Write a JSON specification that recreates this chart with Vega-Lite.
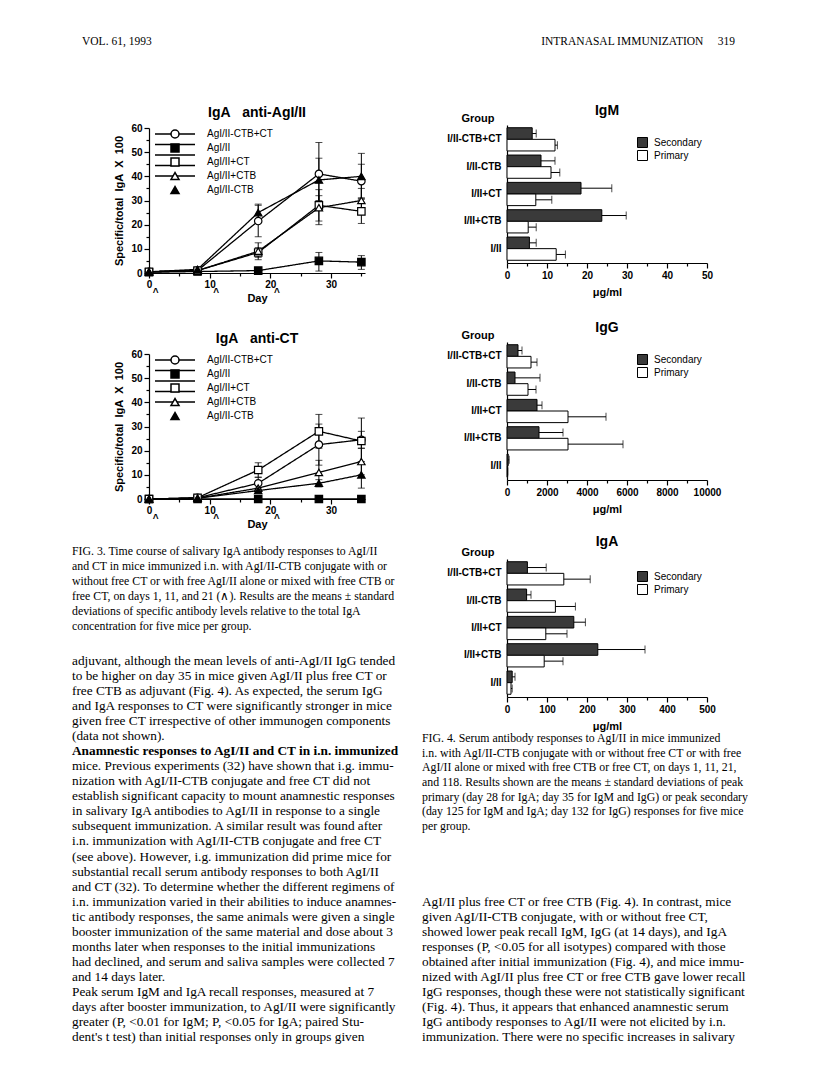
{
  "$schema": "https://vega.github.io/schema/vega-lite/v6.json",
  "background": "white",
  "autosize": {"type": "none"},
  "padding": {"left": 149, "top": 10, "right": 667, "bottom": 1076},
  "bounds": "flush",
  "spacing": 358,
  "resolve": {"scale": {"shape": "independent", "fill": "independent", "strokeDash": "independent"}},
  "datasets": {
    "hdrL": [{"t": "VOL. 61, 1993"}],
    "hdrR": [{"t": "INTRANASAL IMMUNIZATION\u00a0\u00a0\u00a0\u00a0\u00a0319"}],
    "ts1": [
      {"s": "AgI/II-CTB+CT", "d": 0, "y": 0.5},
      {"s": "AgI/II-CTB+CT", "d": 8, "y": 1},
      {"s": "AgI/II-CTB+CT", "d": 18, "y": 21.5, "lo": 15, "hi": 28},
      {"s": "AgI/II-CTB+CT", "d": 28, "y": 41, "lo": 28, "hi": 54},
      {"s": "AgI/II-CTB+CT", "d": 35, "y": 38, "lo": 31, "hi": 45},
      {"s": "AgI/II", "d": 0, "y": 0.3},
      {"s": "AgI/II", "d": 8, "y": 0.6},
      {"s": "AgI/II", "d": 18, "y": 1},
      {"s": "AgI/II", "d": 28, "y": 5, "lo": 0.8, "hi": 8.5},
      {"s": "AgI/II", "d": 35, "y": 4.5, "lo": 1.5, "hi": 7.2},
      {"s": "AgI/II+CT", "d": 0, "y": 0.5},
      {"s": "AgI/II+CT", "d": 8, "y": 1},
      {"s": "AgI/II+CT", "d": 18, "y": 8.5, "lo": 6.5, "hi": 10.5},
      {"s": "AgI/II+CT", "d": 28, "y": 28, "lo": 21.5, "hi": 34.5},
      {"s": "AgI/II+CT", "d": 35, "y": 25.5, "lo": 20.5, "hi": 30.5},
      {"s": "AgI/II+CTB", "d": 0, "y": 0.5},
      {"s": "AgI/II+CTB", "d": 8, "y": 1},
      {"s": "AgI/II+CTB", "d": 18, "y": 9, "lo": 5.5, "hi": 12.5},
      {"s": "AgI/II+CTB", "d": 28, "y": 27, "lo": 20, "hi": 32},
      {"s": "AgI/II+CTB", "d": 35, "y": 30, "lo": 25, "hi": 35},
      {"s": "AgI/II-CTB", "d": 0, "y": 0.5},
      {"s": "AgI/II-CTB", "d": 8, "y": 1.5},
      {"s": "AgI/II-CTB", "d": 18, "y": 25, "lo": 22, "hi": 28.5},
      {"s": "AgI/II-CTB", "d": 28, "y": 38.5, "lo": 30, "hi": 47.5},
      {"s": "AgI/II-CTB", "d": 35, "y": 40, "lo": 31, "hi": 49.5}
    ],
    "ts2": [
      {"s": "AgI/II-CTB+CT", "d": 0, "y": 0},
      {"s": "AgI/II-CTB+CT", "d": 8, "y": 0.5},
      {"s": "AgI/II-CTB+CT", "d": 18, "y": 6.5, "lo": 4, "hi": 9},
      {"s": "AgI/II-CTB+CT", "d": 28, "y": 22.5, "lo": 14, "hi": 31},
      {"s": "AgI/II-CTB+CT", "d": 35, "y": 24.5, "lo": 21, "hi": 28},
      {"s": "AgI/II", "d": 0, "y": 0},
      {"s": "AgI/II", "d": 8, "y": 0},
      {"s": "AgI/II", "d": 18, "y": 0},
      {"s": "AgI/II", "d": 28, "y": 0},
      {"s": "AgI/II", "d": 35, "y": 0},
      {"s": "AgI/II+CT", "d": 0, "y": 0},
      {"s": "AgI/II+CT", "d": 8, "y": 0.5},
      {"s": "AgI/II+CT", "d": 18, "y": 12, "lo": 9, "hi": 15},
      {"s": "AgI/II+CT", "d": 28, "y": 28, "lo": 21, "hi": 35},
      {"s": "AgI/II+CT", "d": 35, "y": 24, "lo": 14.5, "hi": 33.5},
      {"s": "AgI/II+CTB", "d": 0, "y": 0},
      {"s": "AgI/II+CTB", "d": 8, "y": 0.3},
      {"s": "AgI/II+CTB", "d": 18, "y": 4.5, "lo": 3, "hi": 6},
      {"s": "AgI/II+CTB", "d": 28, "y": 11, "lo": 6, "hi": 16},
      {"s": "AgI/II+CTB", "d": 35, "y": 15.5, "lo": 10, "hi": 21},
      {"s": "AgI/II-CTB", "d": 0, "y": 0},
      {"s": "AgI/II-CTB", "d": 8, "y": 0.3},
      {"s": "AgI/II-CTB", "d": 18, "y": 3.5, "lo": 2.5, "hi": 4.5},
      {"s": "AgI/II-CTB", "d": 28, "y": 6.5, "lo": 5, "hi": 8},
      {"s": "AgI/II-CTB", "d": 35, "y": 10, "lo": 4.5, "hi": 15.5}
    ],
    "bars": [
      {"iso": "IgM", "g": "I/II-CTB+CT", "t": "Secondary", "v": 6.3, "hi": 7.3},
      {"iso": "IgM", "g": "I/II-CTB+CT", "t": "Primary", "v": 12.0, "hi": 12.6},
      {"iso": "IgM", "g": "I/II-CTB", "t": "Secondary", "v": 8.5, "hi": 12.0},
      {"iso": "IgM", "g": "I/II-CTB", "t": "Primary", "v": 11.0, "hi": 13.2},
      {"iso": "IgM", "g": "I/II+CT", "t": "Secondary", "v": 18.5, "hi": 26.2},
      {"iso": "IgM", "g": "I/II+CT", "t": "Primary", "v": 7.2, "hi": 11.2},
      {"iso": "IgM", "g": "I/II+CTB", "t": "Secondary", "v": 23.7, "hi": 29.8},
      {"iso": "IgM", "g": "I/II+CTB", "t": "Primary", "v": 5.3, "hi": 7.3},
      {"iso": "IgM", "g": "I/II", "t": "Secondary", "v": 5.6, "hi": 7.3},
      {"iso": "IgM", "g": "I/II", "t": "Primary", "v": 12.3, "hi": 14.6},
      {"iso": "IgG", "g": "I/II-CTB+CT", "t": "Secondary", "v": 550, "hi": 750},
      {"iso": "IgG", "g": "I/II-CTB+CT", "t": "Primary", "v": 1200, "hi": 1500},
      {"iso": "IgG", "g": "I/II-CTB", "t": "Secondary", "v": 400, "hi": 1650},
      {"iso": "IgG", "g": "I/II-CTB", "t": "Primary", "v": 1050, "hi": 1450},
      {"iso": "IgG", "g": "I/II+CT", "t": "Secondary", "v": 1500, "hi": 1750},
      {"iso": "IgG", "g": "I/II+CT", "t": "Primary", "v": 3050, "hi": 4950},
      {"iso": "IgG", "g": "I/II+CTB", "t": "Secondary", "v": 1600, "hi": 2800},
      {"iso": "IgG", "g": "I/II+CTB", "t": "Primary", "v": 3050, "hi": 5800},
      {"iso": "IgG", "g": "I/II", "t": "Secondary", "v": 60, "hi": 110},
      {"iso": "IgG", "g": "I/II", "t": "Primary", "v": 30, "hi": 40},
      {"iso": "IgA", "g": "I/II-CTB+CT", "t": "Secondary", "v": 51, "hi": 98},
      {"iso": "IgA", "g": "I/II-CTB+CT", "t": "Primary", "v": 142, "hi": 208},
      {"iso": "IgA", "g": "I/II-CTB", "t": "Secondary", "v": 49, "hi": 60},
      {"iso": "IgA", "g": "I/II-CTB", "t": "Primary", "v": 121, "hi": 171},
      {"iso": "IgA", "g": "I/II+CT", "t": "Secondary", "v": 167, "hi": 196},
      {"iso": "IgA", "g": "I/II+CT", "t": "Primary", "v": 97, "hi": 150},
      {"iso": "IgA", "g": "I/II+CTB", "t": "Secondary", "v": 227, "hi": 345},
      {"iso": "IgA", "g": "I/II+CTB", "t": "Primary", "v": 93, "hi": 140},
      {"iso": "IgA", "g": "I/II", "t": "Secondary", "v": 13, "hi": 20},
      {"iso": "IgA", "g": "I/II", "t": "Primary", "v": 10, "hi": 13}
    ],
    "capL": [
      {"ln": 0, "t": "\u2003FIG. 3. Time course of salivary IgA antibody responses to AgI/II"},
      {"ln": 1, "t": "and CT in mice immunized i.n. with AgI/II-CTB conjugate with or"},
      {"ln": 2, "t": "without free CT or with free AgI/II alone or mixed with free CTB or"},
      {"ln": 3, "t": "free CT, on days 1, 11, and 21 (\u2227). Results are the means \u00b1 standard"},
      {"ln": 4, "t": "deviations of specific antibody levels relative to the total IgA"},
      {"ln": 5, "t": "concentration for five mice per group."}
    ],
    "bodyL": [
      {"ln": 0, "t": "adjuvant, although the mean levels of anti-AgI/II IgG tended"},
      {"ln": 1, "t": "to be higher on day 35 in mice given AgI/II plus free CT or"},
      {"ln": 2, "t": "free CTB as adjuvant (Fig. 4). As expected, the serum IgG"},
      {"ln": 3, "t": "and IgA responses to CT were significantly stronger in mice"},
      {"ln": 4, "t": "given free CT irrespective of other immunogen components"},
      {"ln": 5, "t": "(data not shown)."},
      {"ln": 6, "t": "\u2003Anamnestic responses to AgI/II and CT in i.n. immunized", "r": "h"},
      {"ln": 7, "t": "mice. Previous experiments (32) have shown that i.g. immu-"},
      {"ln": 8, "t": "nization with AgI/II-CTB conjugate and free CT did not"},
      {"ln": 9, "t": "establish significant capacity to mount anamnestic responses"},
      {"ln": 10, "t": "in salivary IgA antibodies to AgI/II in response to a single"},
      {"ln": 11, "t": "subsequent immunization. A similar result was found after"},
      {"ln": 12, "t": "i.n. immunization with AgI/II-CTB conjugate and free CT"},
      {"ln": 13, "t": "(see above). However, i.g. immunization did prime mice for"},
      {"ln": 14, "t": "substantial recall serum antibody responses to both AgI/II"},
      {"ln": 15, "t": "and CT (32). To determine whether the different regimens of"},
      {"ln": 16, "t": "i.n. immunization varied in their abilities to induce anamnes-"},
      {"ln": 17, "t": "tic antibody responses, the same animals were given a single"},
      {"ln": 18, "t": "booster immunization of the same material and dose about 3"},
      {"ln": 19, "t": "months later when responses to the initial immunizations"},
      {"ln": 20, "t": "had declined, and serum and saliva samples were collected 7"},
      {"ln": 21, "t": "and 14 days later."},
      {"ln": 22, "t": "\u2003Peak serum IgM and IgA recall responses, measured at 7"},
      {"ln": 23, "t": "days after booster immunization, to AgI/II were significantly"},
      {"ln": 24, "t": "greater (P, <0.01 for IgM; P, <0.05 for IgA; paired Stu-"},
      {"ln": 25, "t": "dent's t test) than initial responses only in groups given"}
    ],
    "capR": [
      {"ln": 0, "t": "\u2003FIG. 4. Serum antibody responses to AgI/II in mice immunized"},
      {"ln": 1, "t": "i.n. with AgI/II-CTB conjugate with or without free CT or with free"},
      {"ln": 2, "t": "AgI/II alone or mixed with free CTB or free CT, on days 1, 11, 21,"},
      {"ln": 3, "t": "and 118. Results shown are the means \u00b1 standard deviations of peak"},
      {"ln": 4, "t": "primary (day 28 for IgA; day 35 for IgM and IgG) or peak secondary"},
      {"ln": 5, "t": "(day 125 for IgM and IgA; day 132 for IgG) responses for five mice"},
      {"ln": 6, "t": "per group."}
    ],
    "bodyR": [
      {"ln": 0, "t": "AgI/II plus free CT or free CTB (Fig. 4). In contrast, mice"},
      {"ln": 1, "t": "given AgI/II-CTB conjugate, with or without free CT,"},
      {"ln": 2, "t": "showed lower peak recall IgM, IgG (at 14 days), and IgA"},
      {"ln": 3, "t": "responses (P, <0.05 for all isotypes) compared with those"},
      {"ln": 4, "t": "obtained after initial immunization (Fig. 4), and mice immu-"},
      {"ln": 5, "t": "nized with AgI/II plus free CT or free CTB gave lower recall"},
      {"ln": 6, "t": "IgG responses, though these were not statistically significant"},
      {"ln": 7, "t": "(Fig. 4). Thus, it appears that enhanced anamnestic serum"},
      {"ln": 8, "t": "IgG antibody responses to AgI/II were not elicited by i.n."},
      {"ln": 9, "t": "immunization. There were no specific increases in salivary"}
    ]
  },
  "hconcat": [
    {
      "bounds": "flush",
      "spacing": 81,
      "resolve": {"scale": {"shape": "independent", "fill": "independent", "strokeDash": "independent"}},
      "vconcat": [
        {
          "width": 216, "height": 37,
          "data": {"name": "hdrL"},
          "mark": {"type": "text", "align": "left", "baseline": "middle", "font": "Liberation Serif", "fontSize": 11.5, "color": "black", "dx": -67, "dy": 32},
          "encoding": {
            "x": {"datum": 0, "type": "quantitative", "scale": {"domain": [0, 1]}, "axis": null},
            "y": {"datum": 0, "type": "quantitative", "scale": {"domain": [0, 1], "reverse": true}, "axis": null},
            "text": {"field": "t"}
          }
        },
        {
          "width": 216, "height": 145,
          "data": {"name": "ts1"},
          "title": {"text": "IgA\u00a0\u00a0\u00a0anti-AgI/II", "offset": -11, "baseline": "bottom"},
          "encoding": {
            "x": {"field": "d", "type": "quantitative", "title": "Day",
              "scale": {"domain": [0, 35.6], "nice": false, "zero": false},
              "axis": {"values": [0, 1, 5, 10, 11, 15, 20, 21, 25, 30, 35],
                "labelExpr": "datum.value % 10 === 0 ? datum.label : (datum.value % 10 === 1 ? ['', '^'] : '')",
                "tickSize": {"condition": [{"test": "datum.value % 10 === 1", "value": 0}, {"test": "datum.value % 10 === 5", "value": 3}], "value": 5},
                "labelPadding": 1, "labelLineHeight": 13, "labelOverlap": false, "labelFlush": false, "titleY": 25, "titleBaseline": "middle"}},
            "y": {"field": "y", "type": "quantitative", "title": "Specific/total\u00a0\u00a0IgA\u00a0\u00a0X\u00a0\u00a0100", "scale": {"domain": [0, 60], "nice": false},
              "axis": {"values": [0, 5, 10, 15, 20, 25, 30, 35, 40, 45, 50, 55, 60], "labelExpr": "datum.value % 10 === 0 ? datum.label : ''", "tickSize": {"condition": {"test": "datum.value % 10 === 0", "value": 5}, "value": 3}, "labelPadding": 2, "titlePadding": 6, "labelOverlap": false}}
          },
          "layer": [
            {"mark": {"type": "rule", "color": "black", "strokeWidth": 1},
             "encoding": {"y": {"field": "lo", "type": "quantitative", "title": "Specific/total\u00a0\u00a0IgA\u00a0\u00a0X\u00a0\u00a0100", "scale": {"domain": [0, 60], "nice": false},
                "axis": {"values": [0, 5, 10, 15, 20, 25, 30, 35, 40, 45, 50, 55, 60], "labelExpr": "datum.value % 10 === 0 ? datum.label : ''", "tickSize": {"condition": {"test": "datum.value % 10 === 0", "value": 5}, "value": 3}, "labelPadding": 2, "titlePadding": 6, "labelOverlap": false}},
               "y2": {"field": "hi"}}},
            {"mark": {"type": "tick", "orient": "horizontal", "color": "black", "size": 7, "thickness": 1},
             "encoding": {"y": {"field": "hi", "type": "quantitative", "title": "Specific/total\u00a0\u00a0IgA\u00a0\u00a0X\u00a0\u00a0100", "scale": {"domain": [0, 60], "nice": false},
                "axis": {"values": [0, 5, 10, 15, 20, 25, 30, 35, 40, 45, 50, 55, 60], "labelExpr": "datum.value % 10 === 0 ? datum.label : ''", "tickSize": {"condition": {"test": "datum.value % 10 === 0", "value": 5}, "value": 3}, "labelPadding": 2, "titlePadding": 6, "labelOverlap": false}}}},
            {"mark": {"type": "tick", "orient": "horizontal", "color": "black", "size": 7, "thickness": 1},
             "encoding": {"y": {"field": "lo", "type": "quantitative", "title": "Specific/total\u00a0\u00a0IgA\u00a0\u00a0X\u00a0\u00a0100", "scale": {"domain": [0, 60], "nice": false},
                "axis": {"values": [0, 5, 10, 15, 20, 25, 30, 35, 40, 45, 50, 55, 60], "labelExpr": "datum.value % 10 === 0 ? datum.label : ''", "tickSize": {"condition": {"test": "datum.value % 10 === 0", "value": 5}, "value": 3}, "labelPadding": 2, "titlePadding": 6, "labelOverlap": false}}}},
            {"mark": {"type": "line", "color": "black", "strokeWidth": 1.3},
             "encoding": {
               "detail": {"field": "s"},
               "strokeDash": {"field": "s", "type": "nominal", "scale": {"domain": ["AgI/II-CTB+CT", "AgI/II", "AgI/II+CT", "AgI/II+CTB", "AgI/II-CTB"], "range": [[1, 0], [1, 0], [1, 0], [1, 0], [1, 0]]},
                 "legend": {"orient": "top-left", "offset": 1, "title": null, "symbolType": "M-5,0L5,0", "symbolSize": 64, "symbolOffset": 20, "labelOffset": 27, "rowPadding": 0.5, "labelFontSize": 10, "labelExpr": "' '", "labelOpacity": 0, "symbolStrokeColor": "black", "symbolStrokeWidth": 1.3, "symbolDash": [1, 0], "zindex": 0}}}},
            {"mark": {"type": "point", "filled": true, "stroke": "black", "strokeWidth": 1.2, "opacity": 1, "size": 55},
             "encoding": {
               "shape": {"field": "s", "type": "nominal", "scale": {"domain": ["AgI/II-CTB+CT", "AgI/II", "AgI/II+CT", "AgI/II+CTB", "AgI/II-CTB"], "range": ["circle", "square", "square", "triangle-up", "triangle-up"]},
                 "legend": {"orient": "none", "legendX": 6, "legendY": 1, "title": null, "symbolSize": 64, "symbolOffset": 15, "labelOffset": 27, "rowPadding": 0, "labelFontSize": 10, "zindex": 1}},
               "fill": {"field": "s", "type": "nominal", "scale": {"domain": ["AgI/II-CTB+CT", "AgI/II", "AgI/II+CT", "AgI/II+CTB", "AgI/II-CTB"], "range": ["white", "black", "white", "white", "black"]}}
             }}
          ]
        },
        {
          "width": 216, "height": 145,
          "data": {"name": "ts2"},
          "title": {"text": "IgA\u00a0\u00a0\u00a0anti-CT", "offset": -11, "baseline": "bottom"},
          "encoding": {
            "x": {"field": "d", "type": "quantitative", "title": "Day",
              "scale": {"domain": [0, 35.6], "nice": false, "zero": false},
              "axis": {"values": [0, 1, 5, 10, 11, 15, 20, 21, 25, 30, 35],
                "labelExpr": "datum.value % 10 === 0 ? datum.label : (datum.value % 10 === 1 ? ['', '^'] : '')",
                "tickSize": {"condition": [{"test": "datum.value % 10 === 1", "value": 0}, {"test": "datum.value % 10 === 5", "value": 3}], "value": 5},
                "labelPadding": 1, "labelLineHeight": 13, "labelOverlap": false, "labelFlush": false, "titleY": 25, "titleBaseline": "middle"}},
            "y": {"field": "y", "type": "quantitative", "title": "Specific/total\u00a0\u00a0IgA\u00a0\u00a0X\u00a0\u00a0100", "scale": {"domain": [0, 60], "nice": false},
              "axis": {"values": [0, 5, 10, 15, 20, 25, 30, 35, 40, 45, 50, 55, 60], "labelExpr": "datum.value % 10 === 0 ? datum.label : ''", "tickSize": {"condition": {"test": "datum.value % 10 === 0", "value": 5}, "value": 3}, "labelPadding": 2, "titlePadding": 6, "labelOverlap": false}}
          },
          "layer": [
            {"mark": {"type": "rule", "color": "black", "strokeWidth": 1},
             "encoding": {"y": {"field": "lo", "type": "quantitative", "title": "Specific/total\u00a0\u00a0IgA\u00a0\u00a0X\u00a0\u00a0100", "scale": {"domain": [0, 60], "nice": false},
                "axis": {"values": [0, 5, 10, 15, 20, 25, 30, 35, 40, 45, 50, 55, 60], "labelExpr": "datum.value % 10 === 0 ? datum.label : ''", "tickSize": {"condition": {"test": "datum.value % 10 === 0", "value": 5}, "value": 3}, "labelPadding": 2, "titlePadding": 6, "labelOverlap": false}},
               "y2": {"field": "hi"}}},
            {"mark": {"type": "tick", "orient": "horizontal", "color": "black", "size": 7, "thickness": 1},
             "encoding": {"y": {"field": "hi", "type": "quantitative", "title": "Specific/total\u00a0\u00a0IgA\u00a0\u00a0X\u00a0\u00a0100", "scale": {"domain": [0, 60], "nice": false},
                "axis": {"values": [0, 5, 10, 15, 20, 25, 30, 35, 40, 45, 50, 55, 60], "labelExpr": "datum.value % 10 === 0 ? datum.label : ''", "tickSize": {"condition": {"test": "datum.value % 10 === 0", "value": 5}, "value": 3}, "labelPadding": 2, "titlePadding": 6, "labelOverlap": false}}}},
            {"mark": {"type": "tick", "orient": "horizontal", "color": "black", "size": 7, "thickness": 1},
             "encoding": {"y": {"field": "lo", "type": "quantitative", "title": "Specific/total\u00a0\u00a0IgA\u00a0\u00a0X\u00a0\u00a0100", "scale": {"domain": [0, 60], "nice": false},
                "axis": {"values": [0, 5, 10, 15, 20, 25, 30, 35, 40, 45, 50, 55, 60], "labelExpr": "datum.value % 10 === 0 ? datum.label : ''", "tickSize": {"condition": {"test": "datum.value % 10 === 0", "value": 5}, "value": 3}, "labelPadding": 2, "titlePadding": 6, "labelOverlap": false}}}},
            {"mark": {"type": "line", "color": "black", "strokeWidth": 1.3},
             "encoding": {
               "detail": {"field": "s"},
               "strokeDash": {"field": "s", "type": "nominal", "scale": {"domain": ["AgI/II-CTB+CT", "AgI/II", "AgI/II+CT", "AgI/II+CTB", "AgI/II-CTB"], "range": [[1, 0], [1, 0], [1, 0], [1, 0], [1, 0]]},
                 "legend": {"orient": "top-left", "offset": 1, "title": null, "symbolType": "M-5,0L5,0", "symbolSize": 64, "symbolOffset": 20, "labelOffset": 27, "rowPadding": 0.5, "labelFontSize": 10, "labelExpr": "' '", "labelOpacity": 0, "symbolStrokeColor": "black", "symbolStrokeWidth": 1.3, "symbolDash": [1, 0], "zindex": 0}}}},
            {"mark": {"type": "point", "filled": true, "stroke": "black", "strokeWidth": 1.2, "opacity": 1, "size": 55},
             "encoding": {
               "shape": {"field": "s", "type": "nominal", "scale": {"domain": ["AgI/II-CTB+CT", "AgI/II", "AgI/II+CT", "AgI/II+CTB", "AgI/II-CTB"], "range": ["circle", "square", "square", "triangle-up", "triangle-up"]},
                 "legend": {"orient": "none", "legendX": 6, "legendY": 1, "title": null, "symbolSize": 64, "symbolOffset": 15, "labelOffset": 27, "rowPadding": 0, "labelFontSize": 10, "zindex": 1}},
               "fill": {"field": "s", "type": "nominal", "scale": {"domain": ["AgI/II-CTB+CT", "AgI/II", "AgI/II+CT", "AgI/II+CTB", "AgI/II-CTB"], "range": ["white", "black", "white", "white", "black"]}}
             }}
          ]
        },
        {
          "width": 216, "height": 75,
          "data": {"name": "capL"},
          "mark": {"type": "text", "align": "left", "baseline": "middle", "font": "Liberation Serif", "fontSize": 11.8, "color": "black", "dx": -77, "dy": -29},
          "encoding": {
            "x": {"datum": 0, "type": "quantitative", "scale": {"domain": [0, 1]}, "axis": null},
            "y": {"field": "ln", "type": "quantitative", "scale": {"domain": [0, 5], "reverse": true, "nice": false, "zero": false}, "axis": null},
            "text": {"field": "t"}
          }
        },
        {
          "width": 216, "height": 376,
          "data": {"name": "bodyL"},
          "encoding": {
            "x": {"datum": 0, "type": "quantitative", "scale": {"domain": [0, 1]}, "axis": null},
            "y": {"field": "ln", "type": "quantitative", "scale": {"domain": [0, 25], "reverse": true, "nice": false, "zero": false}, "axis": null},
            "text": {"field": "t"}
          },
          "layer": [
            {"transform": [{"filter": "datum.r !== 'h'"}],
             "mark": {"type": "text", "align": "left", "baseline": "middle", "font": "Liberation Serif", "fontSize": 13.3, "color": "black", "dx": -77, "dy": -75}},
            {"transform": [{"filter": "datum.r === 'h'"}],
             "mark": {"type": "text", "align": "left", "baseline": "middle", "font": "Liberation Serif", "fontSize": 13.3, "fontWeight": "bold", "color": "black", "dx": -77, "dy": -75}}
          ]
        }
      ]
    },
    {
      "bounds": "flush",
      "spacing": 79,
      "resolve": {"scale": {"shape": "independent", "fill": "independent", "strokeDash": "independent"}},
      "vconcat": [
        {
          "width": 200, "height": 36,
          "data": {"name": "hdrR"},
          "mark": {"type": "text", "align": "right", "baseline": "middle", "font": "Liberation Serif", "fontSize": 11.5, "color": "black", "dx": 28, "dy": 32},
          "encoding": {
            "x": {"datum": 1, "type": "quantitative", "scale": {"domain": [0, 1]}, "axis": null},
            "y": {"datum": 0, "type": "quantitative", "scale": {"domain": [0, 1], "reverse": true}, "axis": null},
            "text": {"field": "t"}
          }
        },
        {
          "width": 200, "height": 138,
          "data": {"name": "bars"},
          "transform": [{"filter": "datum.iso === 'IgM'"}],
          "title": {"text": "IgM", "frame": "group", "offset": -20, "baseline": "bottom"},
          "encoding": {
            "y": {"field": "g", "type": "nominal", "title": "Group", "sort": ["I/II-CTB+CT", "I/II-CTB", "I/II+CT", "I/II+CTB", "I/II"], "scale": {"paddingInner": 0.15, "paddingOuter": 0.1},
              "axis": {"ticks": false, "labelPadding": 6, "titleAngle": 0, "titleAlign": "left", "titleX": -46, "titleY": -7, "titleBaseline": "middle"}},
            "yOffset": {"field": "t", "type": "nominal", "sort": ["Secondary", "Primary"], "scale": {"paddingInner": 0, "paddingOuter": 0}}
          },
          "layer": [
            {"mark": {"type": "bar", "stroke": "black", "strokeWidth": 1},
             "encoding": {
               "x": {"field": "v", "type": "quantitative", "title": "\u03bcg/ml", "scale": {"domain": [0, 50], "nice": false},
                 "axis": {"values": [0, 5, 10, 15, 20, 25, 30, 35, 40, 45, 50], "labelExpr": "datum.value % 10 === 0 ? datum.label : ''",
                   "tickSize": {"condition": {"test": "datum.value % 10 === 0", "value": 5}, "value": 3}, "labelOverlap": false, "labelFlush": false, "titleY": 29, "titleBaseline": "middle"}},
               "fill": {"field": "t", "type": "nominal", "scale": {"domain": ["Secondary", "Primary"], "range": ["#3a3a3a", "white"]},
                 "legend": {"orient": "none", "legendX": 130, "legendY": 12, "title": null, "symbolType": "square", "symbolSize": 100, "symbolStrokeColor": "black", "symbolStrokeWidth": 1, "labelOffset": 6, "rowPadding": -2, "labelFontSize": 10}}}},
            {"mark": {"type": "rule", "color": "black", "strokeWidth": 1},
             "encoding": {"x": {"field": "v", "type": "quantitative", "title": "\u03bcg/ml", "scale": {"domain": [0, 50], "nice": false},
                 "axis": {"values": [0, 5, 10, 15, 20, 25, 30, 35, 40, 45, 50], "labelExpr": "datum.value % 10 === 0 ? datum.label : ''",
                   "tickSize": {"condition": {"test": "datum.value % 10 === 0", "value": 5}, "value": 3}, "labelOverlap": false, "labelFlush": false, "titleY": 29, "titleBaseline": "middle"}}, "x2": {"field": "hi"}}},
            {"mark": {"type": "tick", "orient": "vertical", "color": "black", "size": 8, "thickness": 1},
             "encoding": {"x": {"field": "hi", "type": "quantitative", "title": "\u03bcg/ml", "scale": {"domain": [0, 50], "nice": false},
                 "axis": {"values": [0, 5, 10, 15, 20, 25, 30, 35, 40, 45, 50], "labelExpr": "datum.value % 10 === 0 ? datum.label : ''",
                   "tickSize": {"condition": {"test": "datum.value % 10 === 0", "value": 5}, "value": 3}, "labelOverlap": false, "labelFlush": false, "titleY": 29, "titleBaseline": "middle"}}}}
          ]
        },
        {
          "width": 200, "height": 138,
          "data": {"name": "bars"},
          "transform": [{"filter": "datum.iso === 'IgG'"}],
          "title": {"text": "IgG", "frame": "group", "offset": -20, "baseline": "bottom"},
          "encoding": {
            "y": {"field": "g", "type": "nominal", "title": "Group", "sort": ["I/II-CTB+CT", "I/II-CTB", "I/II+CT", "I/II+CTB", "I/II"], "scale": {"paddingInner": 0.15, "paddingOuter": 0.1},
              "axis": {"ticks": false, "labelPadding": 6, "titleAngle": 0, "titleAlign": "left", "titleX": -46, "titleY": -7, "titleBaseline": "middle"}},
            "yOffset": {"field": "t", "type": "nominal", "sort": ["Secondary", "Primary"], "scale": {"paddingInner": 0, "paddingOuter": 0}}
          },
          "layer": [
            {"mark": {"type": "bar", "stroke": "black", "strokeWidth": 1},
             "encoding": {
               "x": {"field": "v", "type": "quantitative", "title": "\u03bcg/ml", "scale": {"domain": [0, 10000], "nice": false},
                 "axis": {"values": [0, 1000, 2000, 3000, 4000, 5000, 6000, 7000, 8000, 9000, 10000], "format": "d", "labelExpr": "datum.value % 2000 === 0 ? datum.label : ''",
                   "tickSize": {"condition": {"test": "datum.value % 2000 === 0", "value": 5}, "value": 3}, "labelOverlap": false, "labelFlush": false, "titleY": 29, "titleBaseline": "middle"}},
               "fill": {"field": "t", "type": "nominal", "scale": {"domain": ["Secondary", "Primary"], "range": ["#3a3a3a", "white"]},
                 "legend": {"orient": "none", "legendX": 130, "legendY": 12, "title": null, "symbolType": "square", "symbolSize": 100, "symbolStrokeColor": "black", "symbolStrokeWidth": 1, "labelOffset": 6, "rowPadding": -2, "labelFontSize": 10}}}},
            {"mark": {"type": "rule", "color": "black", "strokeWidth": 1},
             "encoding": {"x": {"field": "v", "type": "quantitative", "title": "\u03bcg/ml", "scale": {"domain": [0, 10000], "nice": false},
                 "axis": {"values": [0, 1000, 2000, 3000, 4000, 5000, 6000, 7000, 8000, 9000, 10000], "format": "d", "labelExpr": "datum.value % 2000 === 0 ? datum.label : ''",
                   "tickSize": {"condition": {"test": "datum.value % 2000 === 0", "value": 5}, "value": 3}, "labelOverlap": false, "labelFlush": false, "titleY": 29, "titleBaseline": "middle"}}, "x2": {"field": "hi"}}},
            {"mark": {"type": "tick", "orient": "vertical", "color": "black", "size": 8, "thickness": 1},
             "encoding": {"x": {"field": "hi", "type": "quantitative", "title": "\u03bcg/ml", "scale": {"domain": [0, 10000], "nice": false},
                 "axis": {"values": [0, 1000, 2000, 3000, 4000, 5000, 6000, 7000, 8000, 9000, 10000], "format": "d", "labelExpr": "datum.value % 2000 === 0 ? datum.label : ''",
                   "tickSize": {"condition": {"test": "datum.value % 2000 === 0", "value": 5}, "value": 3}, "labelOverlap": false, "labelFlush": false, "titleY": 29, "titleBaseline": "middle"}}}}
          ]
        },
        {
          "width": 200, "height": 138,
          "data": {"name": "bars"},
          "transform": [{"filter": "datum.iso === 'IgA'"}],
          "title": {"text": "IgA", "frame": "group", "offset": -17, "baseline": "bottom"},
          "encoding": {
            "y": {"field": "g", "type": "nominal", "title": "Group", "sort": ["I/II-CTB+CT", "I/II-CTB", "I/II+CT", "I/II+CTB", "I/II"], "scale": {"paddingInner": 0.15, "paddingOuter": 0.1},
              "axis": {"ticks": false, "labelPadding": 6, "titleAngle": 0, "titleAlign": "left", "titleX": -46, "titleY": -7, "titleBaseline": "middle"}},
            "yOffset": {"field": "t", "type": "nominal", "sort": ["Secondary", "Primary"], "scale": {"paddingInner": 0, "paddingOuter": 0}}
          },
          "layer": [
            {"mark": {"type": "bar", "stroke": "black", "strokeWidth": 1},
             "encoding": {
               "x": {"field": "v", "type": "quantitative", "title": "\u03bcg/ml", "scale": {"domain": [0, 500], "nice": false},
                 "axis": {"values": [0, 50, 100, 150, 200, 250, 300, 350, 400, 450, 500], "labelExpr": "datum.value % 100 === 0 ? datum.label : ''",
                   "tickSize": {"condition": {"test": "datum.value % 100 === 0", "value": 5}, "value": 3}, "labelOverlap": false, "labelFlush": false, "titleY": 29, "titleBaseline": "middle"}},
               "fill": {"field": "t", "type": "nominal", "scale": {"domain": ["Secondary", "Primary"], "range": ["#3a3a3a", "white"]},
                 "legend": {"orient": "none", "legendX": 130, "legendY": 12, "title": null, "symbolType": "square", "symbolSize": 100, "symbolStrokeColor": "black", "symbolStrokeWidth": 1, "labelOffset": 6, "rowPadding": -2, "labelFontSize": 10}}}},
            {"mark": {"type": "rule", "color": "black", "strokeWidth": 1},
             "encoding": {"x": {"field": "v", "type": "quantitative", "title": "\u03bcg/ml", "scale": {"domain": [0, 500], "nice": false},
                 "axis": {"values": [0, 50, 100, 150, 200, 250, 300, 350, 400, 450, 500], "labelExpr": "datum.value % 100 === 0 ? datum.label : ''",
                   "tickSize": {"condition": {"test": "datum.value % 100 === 0", "value": 5}, "value": 3}, "labelOverlap": false, "labelFlush": false, "titleY": 29, "titleBaseline": "middle"}}, "x2": {"field": "hi"}}},
            {"mark": {"type": "tick", "orient": "vertical", "color": "black", "size": 8, "thickness": 1},
             "encoding": {"x": {"field": "hi", "type": "quantitative", "title": "\u03bcg/ml", "scale": {"domain": [0, 500], "nice": false},
                 "axis": {"values": [0, 50, 100, 150, 200, 250, 300, 350, 400, 450, 500], "labelExpr": "datum.value % 100 === 0 ? datum.label : ''",
                   "tickSize": {"condition": {"test": "datum.value % 100 === 0", "value": 5}, "value": 3}, "labelOverlap": false, "labelFlush": false, "titleY": 29, "titleBaseline": "middle"}}}}
          ]
        },
        {
          "width": 200, "height": 88,
          "data": {"name": "capR"},
          "mark": {"type": "text", "align": "left", "baseline": "middle", "font": "Liberation Serif", "fontSize": 11.8, "color": "black", "dx": -85, "dy": -38},
          "encoding": {
            "x": {"datum": 0, "type": "quantitative", "scale": {"domain": [0, 1]}, "axis": null},
            "y": {"field": "ln", "type": "quantitative", "scale": {"domain": [0, 6], "reverse": true, "nice": false, "zero": false}, "axis": null},
            "text": {"field": "t"}
          }
        },
        {
          "width": 200, "height": 135,
          "data": {"name": "bodyR"},
          "mark": {"type": "text", "align": "left", "baseline": "middle", "font": "Liberation Serif", "fontSize": 13.3, "color": "black", "dx": -85, "dy": -41},
          "encoding": {
            "x": {"datum": 0, "type": "quantitative", "scale": {"domain": [0, 1]}, "axis": null},
            "y": {"field": "ln", "type": "quantitative", "scale": {"domain": [0, 9], "reverse": true, "nice": false, "zero": false}, "axis": null},
            "text": {"field": "t"}
          }
        }
      ]
    }
  ],
  "config": {
    "view": {"stroke": null},
    "font": "Liberation Sans",
    "axis": {"domainColor": "black", "tickColor": "black", "labelColor": "black", "titleColor": "black", "labelFont": "Liberation Sans", "titleFont": "Liberation Sans", "labelFontWeight": "bold", "titleFontWeight": "bold", "labelFontSize": 10, "titleFontSize": 11, "grid": false, "domainWidth": 1.2, "tickWidth": 1.2, "labelOverlap": false},
    "title": {"font": "Liberation Sans", "fontSize": 14, "fontWeight": "bold", "color": "black"},
    "legend": {"labelFont": "Liberation Sans", "labelFontSize": 10, "labelColor": "black", "padding": 0}
  }
}
